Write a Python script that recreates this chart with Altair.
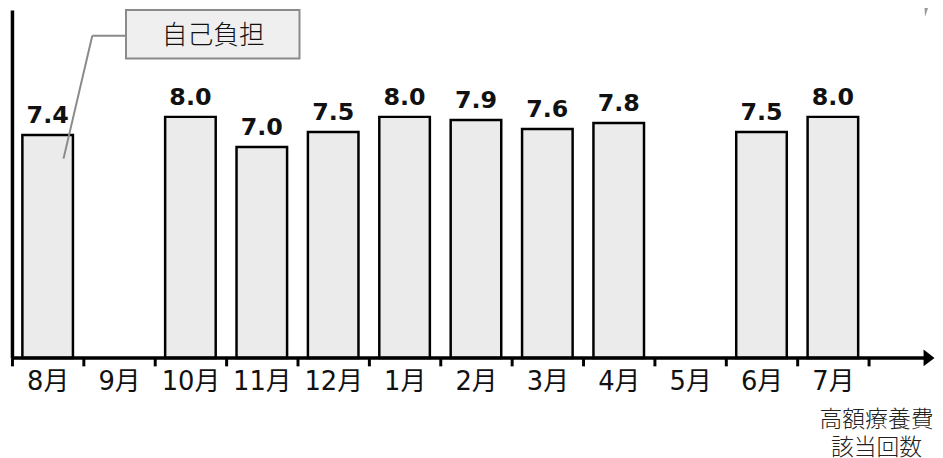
import altair as alt
import pandas as pd

months = ["8月", "9月", "10月", "11月", "12月", "1月", "2月", "3月", "4月", "5月", "6月", "7月"]
values = [7.4, None, 8.0, 7.0, 7.5, 8.0, 7.9, 7.6, 7.8, None, 7.5, 8.0]
value_labels = ["7.4", "", "8.0", "7.0", "7.5", "8.0", "7.9", "7.6", "7.8", "", "7.5", "8.0"]
legend_label = "自己負担"
x_caption = ["高額療養費", "該当回数"]

FONT = "DejaVu Sans, Noto Sans CJK JP"
CJK = "Noto Sans CJK JP"

df = pd.DataFrame({"month": months, "value": values, "label": value_labels})
bars_df = df.dropna()
one = pd.DataFrame({"k": [0]})

xscale = alt.Scale(domain=months, range=[0, 864], paddingInner=0, paddingOuter=0)
yscale = alt.Scale(domain=[0, 11.55])

base = alt.Chart(bars_df)
deco = alt.Chart(one)

bars = base.mark_bar(width=51, fill="#ebebeb", stroke="black", strokeWidth=2.5).encode(
    x=alt.X("month:N", scale=xscale, sort=months,
            axis=alt.Axis(title=None, domain=False, ticks=True, tickSize=8, tickWidth=3,
                          tickColor="black", tickBand="extent", labelAngle=0,
                          labelFontSize=26, labelFont=FONT, labelFontWeight="normal",
                          labelColor="#111", labelPadding=3, labelBaseline="top")),
    y=alt.Y("value:Q", scale=yscale,
            axis=alt.Axis(title=None, labels=False, ticks=False, grid=False,
                          domain=True, domainColor="black", domainWidth=3.5)),
)

texts = base.mark_text(fontSize=24, fontWeight="bold", font=FONT, baseline="bottom",
                       dy=-7, color="#111").encode(
    x=alt.X("month:N", scale=xscale, sort=months),
    y=alt.Y("value:Q", scale=yscale),
    text="label:N",
)

xline = deco.mark_rule(color="black", strokeWidth=3.5).encode(
    x=alt.value(0), x2=alt.value(922), y=alt.value(351)
)
arrow = deco.mark_point(shape="M -0.65 -1 L 0.65 0 L -0.65 1 Z", size=289, filled=True,
                        color="black", opacity=1).encode(
    x=alt.value(925), y=alt.value(351)
)
corner = deco.mark_point(shape="M -0.4 -1 L 0.4 -1 L -0.27 1 Z", size=225, filled=True,
                         color="#999999", opacity=1).encode(
    x=alt.value(923), y=alt.value(-0.5)
)

box = deco.mark_rect(fill="#efefef", stroke="#8a8a8a", strokeWidth=2).encode(
    x=alt.value(115), x2=alt.value(290), y=alt.value(0), y2=alt.value(49)
)
box_text = deco.mark_text(fontSize=26, font=CJK, fontWeight=300, color="#111").encode(
    x=alt.value(203), y=alt.value(26), text=alt.value(legend_label)
)
lead1 = deco.mark_rule(color="#8a8a8a", strokeWidth=2).encode(
    x=alt.value(115), x2=alt.value(81), y=alt.value(26), y2=alt.value(26)
)
lead2 = deco.mark_rule(color="#8a8a8a", strokeWidth=2).encode(
    x=alt.value(81), x2=alt.value(52), y=alt.value(26), y2=alt.value(150)
)

caption = deco.mark_text(fontSize=23, font=CJK, fontWeight=300, color="#222", lineHeight=28,
                         baseline="middle", text=x_caption).encode(
    x=alt.value(872), y=alt.value(414)
)

chart = alt.layer(bars, texts, xline, arrow, corner, box, lead1, lead2, box_text, caption).properties(
    width=931, height=351,
    autosize=alt.AutoSizeParams(type="none"),
    padding={"left": 4, "top": 0, "right": 0, "bottom": 99},
).configure_view(stroke=None)

chart.save("out.html", embed_options={"renderer": "svg", "actions": False})
